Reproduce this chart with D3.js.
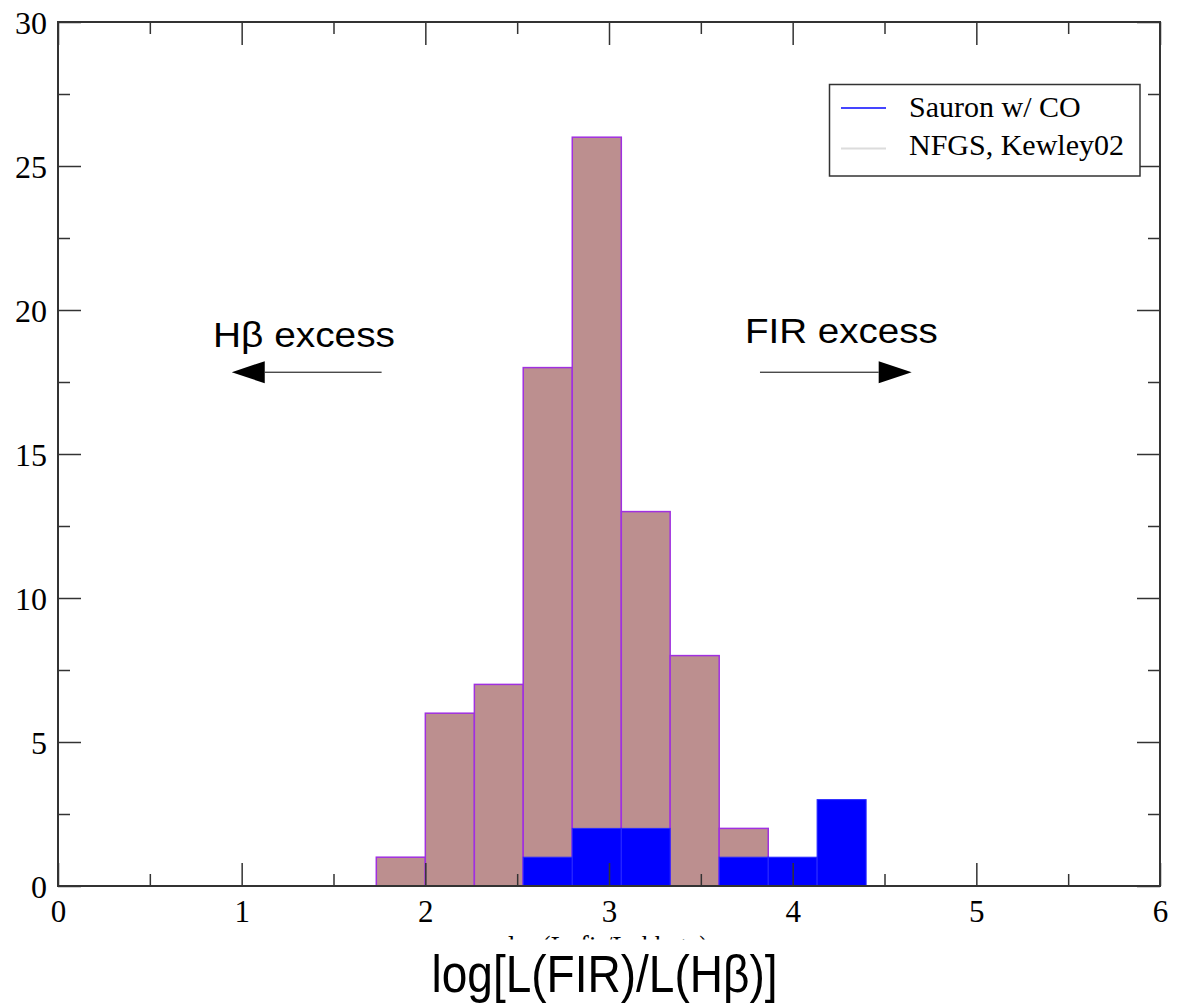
<!DOCTYPE html>
<html>
<head>
<meta charset="utf-8">
<script src="https://cdn.jsdelivr.net/npm/d3@7/dist/d3.min.js"></script>
<style>
  html, body { margin: 0; padding: 0; background: #fff; }
  svg { display: block; }
</style>
</head>
<body>
<svg id="chart" width="1177" height="1006"></svg>
<script>
// ---- data ----
const binEdges = [1.733, 2.0, 2.267, 2.533, 2.8, 3.067, 3.333, 3.6, 3.867, 4.133, 4.4];
const nfgsCounts = [1, 6, 7, 18, 26, 13, 8, 2, 0, 0];
const sauronCounts = [0, 0, 0, 1, 2, 2, 0, 1, 1, 3];
const xMajorTicks = [0, 1, 2, 3, 4, 5, 6];
const xMinorTicks = [0.5, 1.5, 2.5, 3.5, 4.5, 5.5];
const yMajorTicks = [0, 5, 10, 15, 20, 25, 30];
const yMinorTicks = [2.5, 7.5, 12.5, 17.5, 22.5, 27.5];
const legendLabels = ["Sauron w/ CO", "NFGS, Kewley02"];
const annotationLabels = ["H\u03B2 excess", "FIR excess"];
const annotationTextPos = [[0.844, 18.73], [3.74, 18.84]];
const arrowFrom = [[1.762, 17.84], [3.822, 17.84]];
const arrowTo = [[0.946, 17.84], [4.648, 17.84]];
const xTitle = "log[L(FIR)/L(H\u03B2)]";
const hiddenTitle = "log(L_fir/L_hbeta)";

// ---- layout ----
const svg = d3.select("#chart");
const L = 58, R = 1160, T = 22, B = 886;
const x = d3.scaleLinear().domain([0, 6]).range([L, R]);
const y = d3.scaleLinear().domain([0, 30]).range([B, T]);
const axisColor = "#333";

const bars = binEdges.slice(0, -1).map((e, i) => ({x0: e, x1: binEdges[i + 1], n: nfgsCounts[i], s: sauronCounts[i]}));

// NFGS bars
svg.append("g").selectAll("rect").data(bars.filter(d => d.n > 0)).join("rect")
  .attr("x", d => x(d.x0)).attr("width", d => x(d.x1) - x(d.x0))
  .attr("y", d => y(d.n)).attr("height", d => y(0) - y(d.n))
  .attr("fill", "#bc8f8f").attr("stroke", "#a030e0").attr("stroke-width", 1.5);

// Sauron bars
svg.append("g").selectAll("rect").data(bars.filter(d => d.s > 0)).join("rect")
  .attr("x", d => x(d.x0)).attr("width", d => x(d.x1) - x(d.x0))
  .attr("y", d => y(d.s)).attr("height", d => y(0) - y(d.s))
  .attr("fill", "#0000ff").attr("stroke", "#2a2aff").attr("stroke-width", 1);

// axes (ticks inward)
function styleAxis(g) {
  g.select(".domain").remove();
  g.selectAll(".tick line").attr("stroke", axisColor).attr("stroke-width", 1.5);
}
const MAJ = 23, MIN = 12;
const gxb = svg.append("g").attr("transform", `translate(0,${B})`)
  .call(d3.axisBottom(x).tickValues(xMajorTicks).tickSize(-MAJ).tickFormat(d3.format("d")));
styleAxis(gxb);
gxb.selectAll("text").attr("y", 36).attr("dy", 0)
  .attr("font-family", "'Liberation Serif', 'Times New Roman', serif").attr("font-size", 31).attr("fill", "#000");
const gxbm = svg.append("g").attr("transform", `translate(0,${B})`)
  .call(d3.axisBottom(x).tickValues(xMinorTicks).tickSize(-MIN).tickFormat(""));
styleAxis(gxbm);
const gxt = svg.append("g").attr("transform", `translate(0,${T})`)
  .call(d3.axisTop(x).tickValues(xMajorTicks).tickSize(-MAJ).tickFormat(""));
styleAxis(gxt);
const gxtm = svg.append("g").attr("transform", `translate(0,${T})`)
  .call(d3.axisTop(x).tickValues(xMinorTicks).tickSize(-MIN).tickFormat(""));
styleAxis(gxtm);

const gyl = svg.append("g").attr("transform", `translate(${L},0)`)
  .call(d3.axisLeft(y).tickValues(yMajorTicks).tickSize(-MAJ).tickFormat(d3.format("d")));
styleAxis(gyl);
gyl.selectAll("text").attr("x", -11).attr("dy", "0.36em")
  .attr("font-family", "'Liberation Serif', 'Times New Roman', serif").attr("font-size", 32).attr("fill", "#000");
const gylm = svg.append("g").attr("transform", `translate(${L},0)`)
  .call(d3.axisLeft(y).tickValues(yMinorTicks).tickSize(-MIN).tickFormat(""));
styleAxis(gylm);
const gyr = svg.append("g").attr("transform", `translate(${R},0)`)
  .call(d3.axisRight(y).tickValues(yMajorTicks).tickSize(-MAJ).tickFormat(""));
styleAxis(gyr);
const gyrm = svg.append("g").attr("transform", `translate(${R},0)`)
  .call(d3.axisRight(y).tickValues(yMinorTicks).tickSize(-MIN).tickFormat(""));
styleAxis(gyrm);

// frame
svg.append("rect").attr("x", L).attr("y", T).attr("width", R - L).attr("height", B - T)
  .attr("fill", "none").attr("stroke", axisColor).attr("stroke-width", 2);

// legend
const lg = svg.append("g");
lg.append("rect").attr("x", 829.5).attr("y", 84.5).attr("width", 310.5).attr("height", 91.5)
  .attr("fill", "#fff").attr("stroke", axisColor).attr("stroke-width", 1.5);
const legendColors = ["#4545ff", "#dcdcdc"];
const legendY = [108, 148.5];
legendLabels.forEach((lab, i) => {
  lg.append("line").attr("x1", 841).attr("x2", 886).attr("y1", legendY[i]).attr("y2", legendY[i])
    .attr("stroke", legendColors[i]).attr("stroke-width", 2);
  lg.append("text").attr("x", 909).attr("y", legendY[i] + 8.7 - i * 2)
    .attr("font-family", "'Liberation Serif', 'Times New Roman', serif").attr("font-size", 30)
    .attr("fill", "#000").text(lab);
});

// annotations
const annWidths = [182, 193];
annotationLabels.forEach((lab, i) => {
  svg.append("text").attr("x", x(annotationTextPos[i][0])).attr("y", y(annotationTextPos[i][1]))
    .attr("font-family", "'Liberation Sans', Arial, sans-serif").attr("font-size", 35)
    .attr("textLength", annWidths[i]).attr("lengthAdjust", "spacingAndGlyphs")
    .attr("fill", "#000").text(lab);
  const x0 = x(arrowFrom[i][0]), x1 = x(arrowTo[i][0]), yy = y(arrowFrom[i][1]);
  const dir = Math.sign(x1 - x0);
  const headLen = 33, headHalf = 11;
  svg.append("line").attr("x1", x0).attr("x2", x1 - dir * headLen).attr("y1", yy).attr("y2", yy)
    .attr("stroke", "#000").attr("stroke-width", 1);
  svg.append("path")
    .attr("d", `M${x1},${yy}L${x1 - dir * headLen},${yy - headHalf}L${x1 - dir * headLen},${yy + headHalf}Z`)
    .attr("fill", "#000");
});

// original axis title, almost entirely hidden (only the tops of the tallest glyphs show)
svg.append("clipPath").attr("id", "hideclip").append("rect")
  .attr("x", 0).attr("y", 935).attr("width", 1177).attr("height", 4.5);
svg.append("text").attr("clip-path", "url(#hideclip)")
  .attr("x", 508).attr("y", 955.5)
  .attr("font-family", "'Liberation Serif', 'Times New Roman', serif").attr("font-size", 30)
  .attr("textLength", 200).attr("lengthAdjust", "spacingAndGlyphs")
  .attr("fill", "#000").text(hiddenTitle);

// x title
svg.append("text").attr("x", 431.5).attr("y", 992)
  .attr("font-family", "'Liberation Sans', Arial, sans-serif").attr("font-size", 51)
  .attr("textLength", 346).attr("lengthAdjust", "spacingAndGlyphs")
  .attr("fill", "#000").text(xTitle);
</script>
</body>
</html>
